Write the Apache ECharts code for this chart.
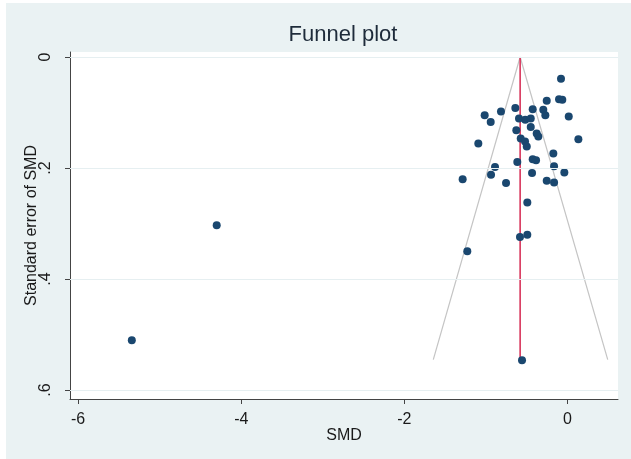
<!DOCTYPE html>
<html>
<head>
<meta charset="utf-8">
<script src="https://cdn.jsdelivr.net/npm/echarts@6/dist/echarts.min.js"></script>
<style>
    html, body { margin: 0; padding: 0; background: #fff; }
    #back { position: absolute; left: 6px; top: 3px; right: 0; bottom: 0; background: #eaf2f3; }
    #main { position: absolute; left: 0; top: 0; width: 631px; height: 459px; }
</style>
</head>
<body>
<div id="back"></div>
<div id="main"></div>
<script>
// study estimates: [SMD, standard error of SMD]
var studies = [
    [-0.079, 0.039], [-0.254, 0.079], [-0.103, 0.076], [-0.063, 0.077],
    [-1.015, 0.105], [-0.941, 0.117], [-0.815, 0.098], [-0.639, 0.092],
    [-0.426, 0.094], [-0.296, 0.095], [-0.271, 0.105], [0.016, 0.107],
    [-0.594, 0.111], [-0.517, 0.113], [-0.450, 0.111], [-0.450, 0.126],
    [-0.627, 0.132], [-0.377, 0.138], [-0.357, 0.143], [0.134, 0.148],
    [-1.093, 0.156], [-0.573, 0.147], [-0.520, 0.152], [-0.499, 0.161],
    [-0.173, 0.174], [-0.426, 0.184], [-0.385, 0.186], [-0.615, 0.189],
    [-0.888, 0.198], [-0.164, 0.197], [-0.937, 0.212], [-0.038, 0.208],
    [-0.434, 0.209], [-1.285, 0.220], [-0.753, 0.227], [-0.254, 0.223],
    [-0.164, 0.226], [-0.492, 0.262], [-0.582, 0.324], [-0.492, 0.320],
    [-1.228, 0.350], [-0.557, 0.546], [-4.301, 0.303], [-5.342, 0.510]
];
// pooled estimate line and pseudo 95% limits
var pooledLine = [[-0.58, 0], [-0.58, 0.545]];
var lowerLimit = [[-0.58, 0], [-1.645, 0.545]];
var upperLimit = [[-0.58, 0], [0.494, 0.545]];

var xTicks = [-6, -4, -2, 0];
var yTicks = [0, 0.2, 0.4, 0.6];

var font = '"Liberation Sans", Arial, sans-serif';
var chart = echarts.init(document.getElementById('main'));

var option = {
    animation: false,
    backgroundColor: 'transparent',
    graphic: [{
        type: 'text',
        x: 343,
        y: 35,
        style: {
            text: 'Funnel plot',
            font: '22px ' + font,
            fill: '#1e2b3a',
            textAlign: 'center',
            textVerticalAlign: 'middle'
        }
    }],
    grid: {
        left: 70,
        top: 52,
        width: 548,
        height: 347,
        show: true,
        backgroundColor: '#fff',
        borderWidth: 0,
        containLabel: false
    },
    xAxis: {
        type: 'value',
        min: -6.1,
        max: 0.62,
        name: 'SMD',
        nameLocation: 'middle',
        nameGap: 29,
        nameMoveOverlap: false,
        nameTextStyle: {fontFamily: font, fontSize: 16, color: '#1a1a1a'},
        axisLine: {onZero: false, lineStyle: {color: '#444', width: 1}},
        axisTick: {show: true, customValues: xTicks, length: 5, lineStyle: {color: '#444'}},
        axisLabel: {
            customValues: xTicks,
            margin: 13,
            fontFamily: font,
            fontSize: 16,
            color: '#1a1a1a'
        },
        splitLine: {show: false}
    },
    yAxis: {
        type: 'value',
        inverse: true,
        min: -0.009,
        max: 0.616,
        name: 'Standard error of SMD',
        nameLocation: 'middle',
        nameGap: 30,
        nameMoveOverlap: false,
        nameTextStyle: {fontFamily: font, fontSize: 16, color: '#1a1a1a'},
        axisLine: {show: true, onZero: false, lineStyle: {color: '#444', width: 1}},
        axisTick: {show: true, customValues: yTicks, length: 5, lineStyle: {color: '#444'}},
        axisLabel: {
            customValues: yTicks,
            rotate: 90,
            margin: 16,
            fontFamily: font,
            fontSize: 16,
            color: '#1a1a1a',
            formatter: function (v) {
                return v === 0 ? '0' : String(v).replace(/^0/, '');
            }
        },
        splitLine: {show: false}
    },
    series: [
        {
            type: 'line',
            data: [],
            z: 1,
            silent: true,
            markLine: {
                silent: true,
                symbol: 'none',
                label: {show: false},
                lineStyle: {color: '#e6eff1', type: 'solid', width: 1},
                data: yTicks.map(function (v) { return {yAxis: v}; })
            }
        },
        {
            type: 'line',
            data: lowerLimit,
            z: 2,
            symbol: 'none',
            silent: true,
            lineStyle: {color: '#c4c4c4', width: 1.2}
        },
        {
            type: 'line',
            data: upperLimit,
            z: 2,
            symbol: 'none',
            silent: true,
            lineStyle: {color: '#c4c4c4', width: 1.2}
        },
        {
            type: 'line',
            data: pooledLine,
            z: 3,
            symbol: 'none',
            silent: true,
            lineStyle: {color: '#d8365c', width: 1.6}
        },
        {
            type: 'scatter',
            data: studies,
            z: 4,
            symbol: 'circle',
            symbolSize: 8,
            itemStyle: {color: '#1a476f', opacity: 1}
        }
    ]
};
chart.setOption(option);
</script>
</body>
</html>
